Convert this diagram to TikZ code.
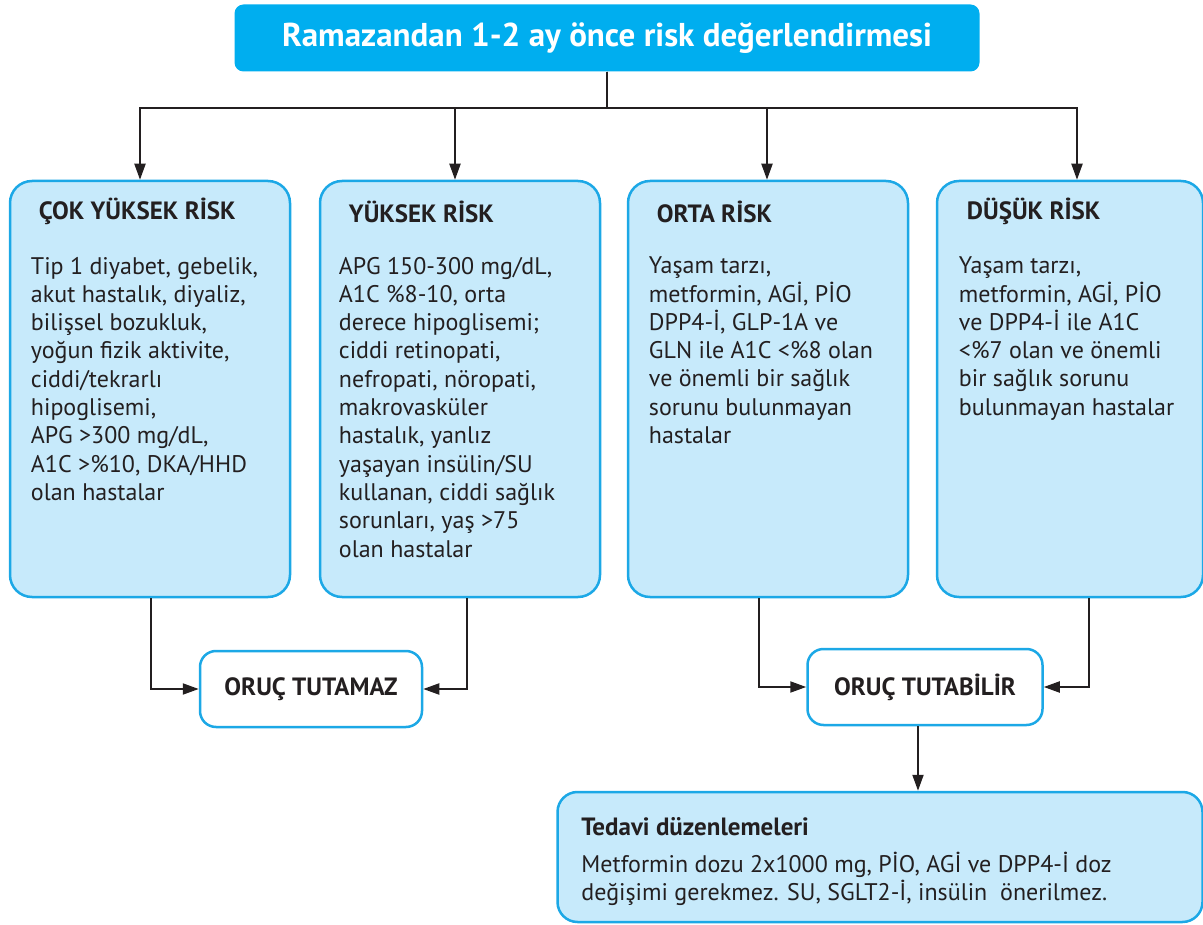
\documentclass[tikz,border=0pt]{standalone}
\usepackage{fontspec}
\setmainfont{PT Sans}
\usetikzlibrary{arrows.meta,positioning}
\definecolor{topcyan}{RGB}{0,174,239}
\definecolor{boxfill}{RGB}{199,234,251}
\definecolor{boxline}{RGB}{28,168,230}
\definecolor{ink}{RGB}{35,31,32}

\begin{document}
\begin{tikzpicture}[x=1pt,y=-1pt,
  titlebox/.style={fill=topcyan,rounded corners=9pt,minimum width=745pt,minimum height=67pt,inner sep=0pt,
    text=white,font=\fontsize{33}{38}\selectfont\bfseries},
  riskbox/.style={draw=boxline,fill=boxfill,line width=2.5pt,rounded corners=22pt,minimum height=416pt,inner sep=0pt},
  resultbox/.style={draw=boxline,fill=white,line width=2.5pt,rounded corners=16pt,minimum height=76pt,inner sep=0pt,
    text=ink,font=\fontsize{25}{29}\selectfont\bfseries},
  headtext/.style={anchor=west,inner sep=0pt,text=ink,font=\fontsize{25}{29}\selectfont\bfseries},
  bodytext/.style={anchor=north west,inner sep=0pt,align=left,text=ink,font=\fontsize{24}{28.3}\selectfont},
  arr/.style={draw=ink,line width=2pt,-{Triangle[length=16pt,width=11pt]}}]

\useasboundingbox (0,0) rectangle (1203,925);

\node[titlebox] (top) at (607,38) {Ramazandan 1-2 ay önce risk değerlendirmesi};
\coordinate (split) at (607,108);

\node[riskbox,minimum width=280pt] (c1) at (150,389) {};
\node[riskbox,minimum width=280pt] (c2) at (460,389) {};
\node[riskbox,minimum width=280pt] (c3) at (768,389) {};
\node[riskbox,minimum width=266pt] (c4) at (1070,389) {};

\node[headtext] (h1) at ([xshift=30pt,yshift=-32pt]c1.north west) {ÇOK YÜKSEK RİSK};
\node[headtext] (h2) at ([xshift=30pt,yshift=-32pt]c2.north west) {YÜKSEK RİSK};
\node[headtext] (h3) at ([xshift=30pt,yshift=-32pt]c3.north west) {ORTA RİSK};
\node[headtext] (h4) at ([xshift=31pt,yshift=-32pt]c4.north west) {DÜŞÜK RİSK};

\node[bodytext] (b1) at ([xshift=22pt,yshift=-77pt]c1.north west)
  {Tip 1 diyabet, gebelik,\\akut hastalık, diyaliz,\\bilişsel bozukluk,\\yoğun fizik aktivite,\\ciddi/tekrarlı\\hipoglisemi,\\APG >300 mg/dL,\\A1C >\%10, DKA/HHD\\olan hastalar};
\node[bodytext] (b2) at ([xshift=20pt,yshift=-77pt]c2.north west)
  {APG 150-300 mg/dL,\\A1C \%8-10, orta\\derece hipoglisemi;\\ciddi retinopati,\\nefropati, nöropati,\\makrovasküler\\hastalık, yanlız\\yaşayan insülin/SU\\kullanan, ciddi sağlık\\sorunları, yaş >75\\olan hastalar};
\node[bodytext] (b3) at ([xshift=22pt,yshift=-77pt]c3.north west)
  {Yaşam tarzı,\\metformin, AGİ, PİO\\DPP4-İ, GLP-1A ve\\GLN ile A1C <\%8 olan\\ve önemli bir sağlık\\sorunu bulunmayan\\hastalar};
\node[bodytext] (b4) at ([xshift=23pt,yshift=-77pt]c4.north west)
  {Yaşam tarzı,\\metformin, AGİ, PİO\\ve DPP4-İ ile A1C\\<\%7 olan ve önemli\\bir sağlık sorunu\\bulunmayan hastalar};

\node[resultbox,minimum width=222pt] (tutamaz) at (311,689) {ORUÇ TUTAMAZ};
\node[resultbox,minimum width=235pt] (tutabilir) at (925,687) {ORUÇ TUTABİLİR};

\node[riskbox,minimum width=645pt,minimum height=130pt,rounded corners=20pt] (tedavi) at (880,857) {};
\node[headtext] (th) at ([xshift=25pt,yshift=-36pt]tedavi.north west) {Tedavi düzenlemeleri};
\node[bodytext] (tb) at ([xshift=25pt,yshift=-61pt]tedavi.north west)
  {Metformin dozu 2x1000 mg, PİO, AGİ ve DPP4-İ doz\\değişimi gerekmez. SU, SGLT2-İ, insülin~ önerilmez.};

\foreach \b/\dx in {c1/-10,c2/-5,c3/-1,c4/7}
  \draw[arr] (top.south) |- ([xshift=\dx pt]\b.north |- split) -- ([xshift=\dx pt]\b.north);

\draw[arr] ([xshift=1pt]c1.south) |- (tutamaz);
\draw[arr] ([xshift=7pt]c2.south) |- (tutamaz);
\draw[arr] ([xshift=-9pt]c3.south) |- (tutabilir);
\draw[arr] ([xshift=19pt]c4.south) |- (tutabilir);
\draw[arr] ([xshift=-7pt]tutabilir.south) -- ([xshift=-7pt]tutabilir.south |- tedavi.north);
\end{tikzpicture}
\end{document}
